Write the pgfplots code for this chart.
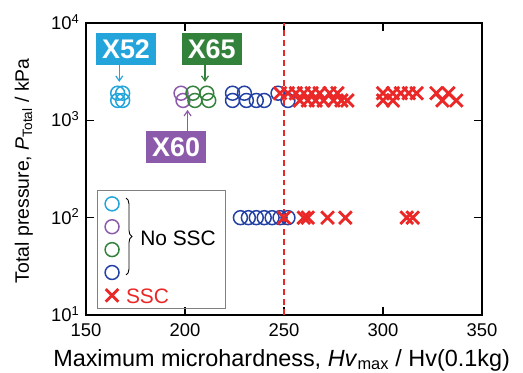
\documentclass[border=0pt]{standalone}
\usepackage{fontspec}
\setmainfont{Liberation Sans}
\usepackage{pgfplots}
\pgfplotsset{compat=1.18}
\usetikzlibrary{decorations.pathreplacing,arrows.meta}
\definecolor{cXa}{RGB}{35,165,220}
\definecolor{cXb}{RGB}{140,90,170}
\definecolor{cXc}{RGB}{50,130,60}
\definecolor{cXd}{RGB}{35,65,165}
\definecolor{cssc}{RGB}{235,40,40}
\newcommand{\tickf}{\fontsize{18.5}{22}\selectfont}
\newcommand{\legf}{\fontsize{21}{17.7}\selectfont}
\newcommand{\lstrut}{\rule[-6.4bp]{0pt}{23.8bp}}
\begin{document}
\begin{tikzpicture}
\begin{axis}[
  width=396bp, height=292bp, scale only axis,
  xmin=150, xmax=350, ymode=log, ymin=10, ymax=10000,
  xtick={150,200,250,300,350},
  ytick={10,100,1000,10000},
  yticklabels={10\textsuperscript{1},10\textsuperscript{2},10\textsuperscript{3},10\textsuperscript{4}},
  yminorticks=false,
  tick align=inside, major tick length=8bp,
  tick style={black, line width=1.2pt},
  axis line style={line width=2.6pt},
  /pgf/number format/assume math mode=true,
  ticklabel style={font=\tickf, inner sep=1bp},
  xticklabel style={yshift=-7.5bp},
  yticklabel style={xshift=-5.5bp, yshift=1bp},
  xlabel={Maximum microhardness, \textit{Hv}\textsubscript{max} / Hv(0.1kg)},
  ylabel={Total pressure, \textit{P}\textsubscript{Total} / kPa},
  xlabel style={font=\fontsize{23.5}{26}\selectfont, at={(axis description cs:0.494,0)}, anchor=base, yshift=-51bp},
  ylabel style={font=\fontsize{19.5}{22}\selectfont, at={(axis description cs:-0.144,0.494)}, anchor=base, rotate=0},
  legend cell align=left,
  legend style={at={(0.027,0.428)}, anchor=north west, draw=gray, line width=0.8pt, fill=none,
    font=\legf, row sep=0pt, inner xsep=8bp, inner ysep=2bp},
  clip=false,
]
\addplot[only marks, mark=o, mark size=7pt, line width=1.5pt, color=cXa]
  coordinates {(166,1900) (168.5,1900) (166,1600) (168.5,1600)};
\addlegendentry{\lstrut\hspace*{94bp}}
\addplot[only marks, mark=o, mark size=7pt, line width=1.5pt, color=cXb]
  coordinates {(198,1900) (199,1600)};
\addlegendentry{\lstrut}
\addplot[only marks, mark=o, mark size=7pt, line width=1.5pt, color=cXc]
  coordinates {(204,1900) (211,1900) (205,1600) (212,1600)};
\addlegendentry{\lstrut}
\addplot[only marks, mark=o, mark size=7pt, line width=1.5pt, color=cXd]
  coordinates {(224,1900) (230,1900) (247,1900)
               (224,1600) (231,1600) (236,1600) (240,1600) (252,1600)
               (228,100) (232,100) (236,100) (240,100) (244,100) (248,100) (252,100)};
\addlegendentry{\lstrut}
\addplot[only marks, mark=x, mark size=9pt, line width=2.8pt, color=cssc]
  coordinates {(248,1900) (252,1900) (256,1900) (260,1900) (264,1900) (268,1900) (273,1900) (277,1900)
               (300,1900) (305,1900) (309,1900) (313,1900) (317,1900) (327,1900) (333,1900)
               (258,1600) (262,1600) (266,1600) (270,1600) (275,1600) (279,1600) (282,1600)
               (300,1600) (305,1600) (330,1600) (337,1600)
               (250,100) (260,100) (262,100) (272,100) (281,100) (312,100) (315,100)};
\addlegendentry{\lstrut\hspace*{5bp}\textcolor{cssc}{SSC}}
\draw[cssc, line width=2pt, dash pattern=on 6pt off 4pt] (axis cs:250,10) -- (axis cs:250,10000);
% annotations
\draw[cXa, line width=1.2pt, -{Straight Barb[length=5pt,width=7pt]}] (axis cs:166.8,3710) -- (axis cs:166.8,2484);
\draw[cXc, line width=1.2pt, -{Straight Barb[length=5pt,width=7pt]}] (axis cs:210.1,3710) -- (axis cs:210.1,2484);
\draw[cXb, line width=1.2pt, -{Straight Barb[length=5pt,width=7pt]}] (axis cs:201.3,766) -- (axis cs:201.3,1279);
\tikzset{lab/.style={text=white, font=\fontsize{27}{30}\selectfont\bfseries, inner sep=0pt, minimum width=60bp, minimum height=32bp}}
\node[lab, fill=cXa] at (axis cs:170.2,5420) {X52};
\node[lab, fill=cXc] at (axis cs:213.5,5420) {X65};
\node[lab, fill=cXb] at (axis cs:195.5,526) {X60};
% legend brace
\draw[black, line width=0.9pt, decorate, decoration={brace, amplitude=6bp}] (axis cs:170.2,159) -- (axis cs:170.2,25.8);
\node[anchor=west, font=\legf, inner sep=0pt] at (axis cs:177.3,61.4) {No SSC};
\end{axis}
\pgfresetboundingbox
\path ([shift={(-86bp,-58bp)}]current axis.south west) rectangle ([shift={(41bp,23bp)}]current axis.north east);
\end{tikzpicture}
\end{document}
